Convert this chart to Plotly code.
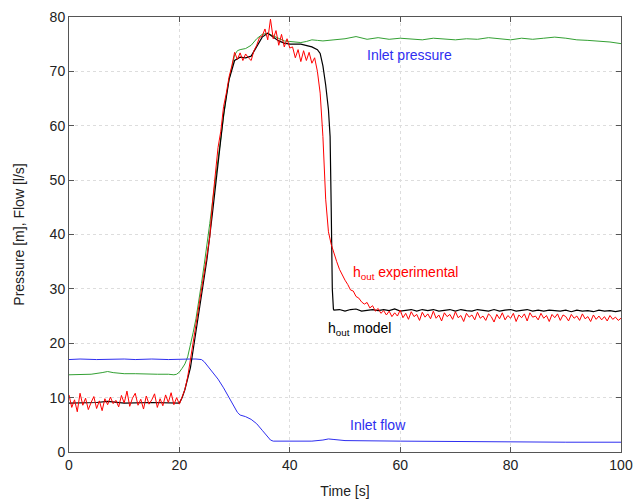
import numpy as np
import plotly.graph_objects as go

# ---------------- data ----------------
# Experimental outlet pressure (red), sampled every 0.5 s from 0 to 100 s
red_v = [
    10.5, 8.2, 9.6, 7.4, 10.8, 8.6, 9.9, 7.8, 9.1, 10.2,
    8.0, 9.4, 7.6, 9.8, 8.7, 10.1, 8.9, 9.5, 8.3, 10.4,
    9.0, 11.2, 8.4, 9.9, 10.8, 8.6, 9.7, 7.9, 10.3, 8.8,
    9.6, 10.7, 8.2, 9.8, 8.5, 10.5, 9.1, 10.9, 8.7, 10.0,
    8.8,
    10.0, 11.5, 13.8, 17.0, 20.5, 23.5, 26.5, 29.5, 33.0, 36.0,
    39.5, 46.0, 51.0, 56.0, 59.0, 63.5, 66.0, 69.0, 71.0, 73.5,
    72.2, 73.4, 72.0, 73.2, 72.5, 72.0, 73.8, 74.8, 76.2, 76.5,
    77.8, 75.8, 79.6, 76.0, 77.5, 74.8, 76.8, 74.5, 76.0, 74.3,
    74.5, 72.5, 74.0, 71.8, 73.8, 72.0, 73.5, 71.5, 72.5, 70.0,
    66.0, 58.0, 46.5, 40.5, 38.2, 36.4, 35.0, 33.6, 32.5, 31.6,
    30.8, 29.8, 29.6, 28.6, 28.3, 27.6, 27.2, 27.5, 26.5, 26.9,
    25.9, 26.4, 25.5, 26.0, 25.2, 25.9, 24.9, 25.6, 25.0, 26.1,
    24.7, 25.5, 24.4, 25.8, 24.9, 25.3, 24.2, 25.7, 24.8, 25.4,
    24.5, 25.9, 24.6, 25.2, 24.1, 25.6, 24.9, 25.3, 24.4, 25.8,
    24.7, 25.1, 24.0, 25.5, 24.8, 25.2, 24.3, 25.7, 24.6, 25.0,
    24.2, 25.4, 24.9, 23.9, 25.3, 24.5, 25.6, 24.3, 25.1, 24.6,
    25.5, 24.0, 25.2, 24.7, 25.4, 24.1, 25.6, 24.8, 25.0, 24.3,
    25.5, 24.6, 25.1, 24.0, 25.3, 24.7, 25.4, 24.2, 25.2, 24.9,
    24.1, 25.3, 24.6, 25.0, 24.2, 25.4, 24.5, 24.9, 24.0, 25.2,
    24.4, 25.0, 24.3, 24.9, 24.1, 25.1, 24.4, 24.8, 24.2, 24.6,
]
red_t = list(np.arange(len(red_v)) * 0.5)

# Model outlet pressure (black)
black_t = [0, 5, 7, 10, 15, 20, 20.5, 21, 22, 23, 24, 25, 26, 27, 28, 29, 30,
           31, 32, 33, 34, 35, 36, 37, 38, 39, 40, 42, 43, 44, 45, 45.5, 46,
           46.5, 47, 47.3, 47.5, 47.7, 47.9] + list(range(48, 101))
black_v = [9.0, 9.1, 9.3, 9.0, 9.1, 9.0, 10.0, 11.5, 15.5, 22.0, 29.0, 35.5,
           44.0, 53.5, 62.0, 68.5, 72.0, 72.6, 72.5, 72.8, 74.5, 76.3, 77.0,
           76.3, 75.6, 75.2, 75.0, 75.0, 74.8, 74.5, 74.0, 73.3, 71.0, 67.5,
           63.0, 58.0, 45.0, 30.0, 26.3,
           26.1, 26.2, 25.9, 26.2, 26.3, 25.9, 26.1, 26.2, 26.0, 26.2,
           26.0, 26.3, 25.9, 26.1, 26.2, 25.9, 26.2, 26.0, 26.2, 25.9,
           26.1, 26.2, 25.9, 26.2, 26.0, 25.9, 26.2, 26.1, 25.9, 26.2,
           25.9, 26.1, 26.2, 25.9, 26.0, 26.2, 25.9, 26.1, 25.9, 26.1,
           26.0, 25.9, 26.1, 25.8, 26.1, 25.9, 26.0, 25.8, 26.1, 25.9,
           26.0, 25.8, 26.0]

# Inlet pressure (green)
green_t = [0, 2, 4, 6, 7, 8, 10, 12, 14, 16, 18, 19, 19.5, 20, 20.5, 21, 21.5,
           22, 22.5, 23, 23.5, 24, 24.5, 25, 25.5, 26, 26.5, 27, 27.5, 28,
           28.5, 29, 29.5, 30, 30.5, 31, 32, 33, 34, 35, 36, 37, 38, 39, 40,
           41, 42, 43, 44, 45, 46, 48, 50, 52, 54, 56, 58, 60, 62, 64, 66,
           68, 70, 72, 74, 76, 78, 80, 82, 84, 86, 88, 90, 92, 94, 96, 98, 100]
green_v = [14.2, 14.3, 14.3, 14.6, 14.8, 14.6, 14.4, 14.4, 14.3, 14.3, 14.3,
           14.2, 14.3, 14.7, 15.4, 16.2, 17.5, 19.5, 22.0, 24.5, 27.5, 31.0,
           34.5, 38.0, 42.0, 46.0, 50.0, 54.0, 58.0, 62.0, 65.5, 68.5, 71.0,
           73.0, 73.8, 74.0, 74.2, 74.8, 76.0, 76.8, 77.0, 76.5, 76.0, 75.6,
           75.5, 75.4, 75.3, 75.5, 75.8, 75.7, 75.6, 75.8, 76.0, 76.4, 75.9,
           76.2, 75.9, 76.1, 76.0, 75.8, 76.1, 75.9, 75.8, 76.0, 75.9, 76.2,
           76.0, 75.8, 76.1, 75.9, 76.1, 76.3, 76.1, 75.8, 75.7, 75.6, 75.4,
           75.1]

# Inlet flow (blue)
blue_t = [0, 2, 5, 8, 10, 12, 15, 18, 20, 22, 23, 24, 24.5, 25, 26, 27, 28,
          29, 30, 30.5, 31, 32, 33, 34, 35, 36, 36.5, 37, 40, 44, 46, 47, 48,
          50, 60, 70, 80, 90, 100]
blue_v = [17.0, 17.1, 17.0, 17.1, 17.1, 17.0, 17.1, 17.0, 17.1, 17.1, 17.1,
          17.0, 16.6, 16.0, 14.8, 13.4, 11.8, 10.0, 8.2, 7.3, 6.8, 6.5, 6.0,
          5.2, 4.0, 2.8, 2.2, 2.0, 2.0, 2.0, 2.2, 2.4, 2.3, 2.1, 2.0, 1.9,
          1.9, 1.8, 1.8]

x_ticks = [0, 20, 40, 60, 80, 100]
y_ticks = [0, 10, 20, 30, 40, 50, 60, 70, 80]

# ---------------- figure ----------------
GREEN = "#33a033"
RED = "#ff0000"
BLUE = "#2e2ef0"
FONT = "Liberation Sans, Arial, sans-serif"

fig = go.Figure()
fig.add_trace(go.Scatter(x=green_t, y=green_v, mode="lines",
                         line=dict(color=GREEN, width=1), name="Inlet pressure"))
fig.add_trace(go.Scatter(x=blue_t, y=blue_v, mode="lines",
                         line=dict(color=BLUE, width=1), name="Inlet flow"))
fig.add_trace(go.Scatter(x=black_t, y=black_v, mode="lines",
                         line=dict(color="black", width=1.2), name="h_out model"))
fig.add_trace(go.Scatter(x=red_t, y=red_v, mode="lines",
                         line=dict(color=RED, width=1), name="h_out experimental"))

ann_font = dict(family=FONT, size=14)
fig.add_annotation(x=53.7, y=73.0, text="Inlet pressure", showarrow=False,
                   xanchor="left", yanchor="middle", font=dict(ann_font, color=BLUE))
fig.add_annotation(x=50.6, y=5.0, text="Inlet flow", showarrow=False,
                   xanchor="left", yanchor="middle", font=dict(ann_font, color=BLUE))
fig.add_annotation(x=51.0, y=33.0, text="h<sub>out</sub> experimental", showarrow=False,
                   xanchor="left", yanchor="middle", font=dict(ann_font, color=RED))
fig.add_annotation(x=46.6, y=22.6, text="h<sub>out</sub> model", showarrow=False,
                   xanchor="left", yanchor="middle", font=dict(ann_font, color="black"))

axis_common = dict(
    showline=True, linecolor="#555555", linewidth=1, mirror="ticks",
    ticks="inside", ticklen=5, tickcolor="#555555",
    showgrid=True, gridcolor="#dddddd", griddash="dot", gridwidth=1,
    zeroline=False, automargin=False,
    tickfont=dict(family=FONT, size=14, color="#222222"),
)

fig.update_layout(
    width=637, height=504,
    margin=dict(l=69, r=16, t=17, b=52, autoexpand=False),
    paper_bgcolor="white", plot_bgcolor="white",
    showlegend=False,
    font=dict(family=FONT, size=14, color="#222222"),
    xaxis=dict(axis_common, range=[0, 100], tickvals=x_ticks,
               title=dict(text="Time [s]", font=dict(family=FONT, size=14), standoff=14)),
    yaxis=dict(axis_common, range=[0, 80], tickvals=y_ticks,
               title=dict(text="Pressure [m], Flow [l/s]", font=dict(family=FONT, size=14), standoff=21)),
)

fig.write_html(
    "out.html",
    config={"displayModeBar": False, "responsive": False},
    post_script="document.body.style.margin='0';document.body.style.overflow='hidden';",
)
